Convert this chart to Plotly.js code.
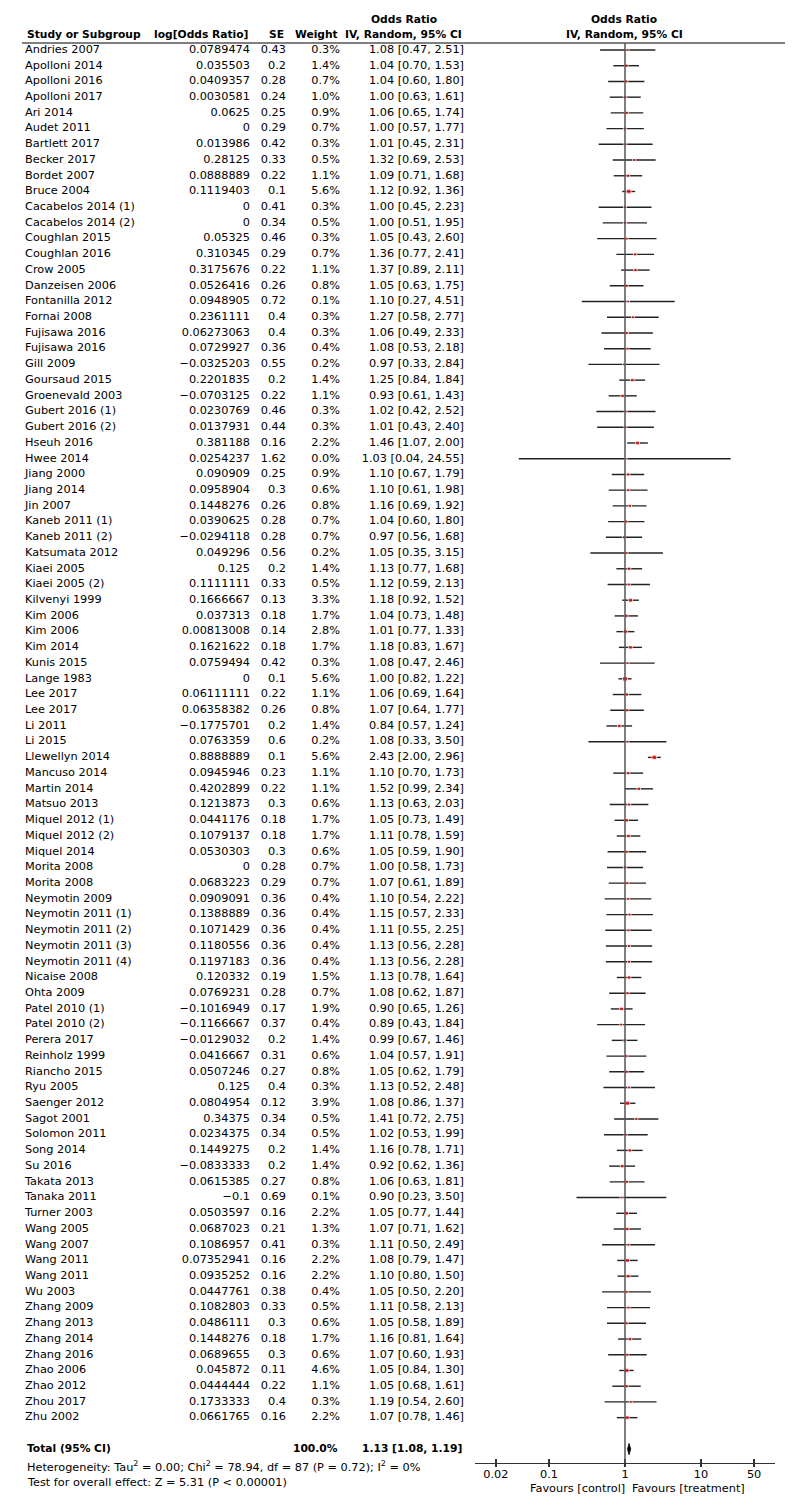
<!DOCTYPE html>
<html>
<head>
<meta charset="utf-8">
<script src="https://cdn.plot.ly/plotly-3.0.1.min.js"></script>
<style>body{margin:0;background:#fff}</style>
</head>
<body>
<div id="forest" style="width:800px;height:1507px"></div>
<script>
// Study data
var studies = ["Andries 2007","Apolloni 2014","Apolloni 2016","Apolloni 2017","Ari 2014","Audet 2011","Bartlett 2017","Becker 2017","Bordet 2007","Bruce 2004",
  "Cacabelos 2014 (1)","Cacabelos 2014 (2)","Coughlan 2015","Coughlan 2016","Crow 2005","Danzeisen 2006","Fontanilla 2012","Fornai 2008","Fujisawa 2016","Fujisawa 2016",
  "Gill 2009","Goursaud 2015","Groenevald 2003","Gubert 2016 (1)","Gubert 2016 (2)","Hseuh 2016","Hwee 2014","Jiang 2000","Jiang 2014","Jin 2007",
  "Kaneb 2011 (1)","Kaneb 2011 (2)","Katsumata 2012","Kiaei 2005","Kiaei 2005 (2)","Kilvenyi 1999","Kim 2006","Kim 2006","Kim 2014","Kunis 2015",
  "Lange 1983","Lee 2017","Lee 2017","Li 2011","Li 2015","Llewellyn 2014","Mancuso 2014","Martin 2014","Matsuo 2013","Miquel 2012 (1)",
  "Miquel 2012 (2)","Miquel 2014","Morita 2008","Morita 2008","Neymotin 2009","Neymotin 2011 (1)","Neymotin 2011 (2)","Neymotin 2011 (3)","Neymotin 2011 (4)","Nicaise 2008",
  "Ohta 2009","Patel 2010 (1)","Patel 2010 (2)","Perera 2017","Reinholz 1999","Riancho 2015","Ryu 2005","Saenger 2012","Sagot 2001","Solomon 2011",
  "Song 2014","Su 2016","Takata 2013","Tanaka 2011","Turner 2003","Wang 2005","Wang 2007","Wang 2011","Wang 2011","Wu 2003",
  "Zhang 2009","Zhang 2013","Zhang 2014","Zhang 2016","Zhao 2006","Zhao 2012","Zhou 2017","Zhu 2002"];

var logOR = [0.0789474,0.035503,0.0409357,0.0030581,0.0625,0,0.013986,0.28125,0.0888889,0.1119403,
  0,0,0.05325,0.310345,0.3175676,0.0526416,0.0948905,0.2361111,0.06273063,0.0729927,
  -0.0325203,0.2201835,-0.0703125,0.0230769,0.0137931,0.381188,0.0254237,0.090909,0.0958904,0.1448276,
  0.0390625,-0.0294118,0.049296,0.125,0.1111111,0.1666667,0.037313,0.00813008,0.1621622,0.0759494,
  0,0.06111111,0.06358382,-0.1775701,0.0763359,0.8888889,0.0945946,0.4202899,0.1213873,0.0441176,
  0.1079137,0.0530303,0,0.0683223,0.0909091,0.1388889,0.1071429,0.1180556,0.1197183,0.120332,
  0.0769231,-0.1016949,-0.1166667,-0.0129032,0.0416667,0.0507246,0.125,0.0804954,0.34375,0.0234375,
  0.1449275,-0.0833333,0.0615385,-0.1,0.0503597,0.0687023,0.1086957,0.07352941,0.0935252,0.0447761,
  0.1082803,0.0486111,0.1448276,0.0689655,0.045872,0.0444444,0.1733333,0.0661765];

var se = [0.43,0.2,0.28,0.24,0.25,0.29,0.42,0.33,0.22,0.1,
  0.41,0.34,0.46,0.29,0.22,0.26,0.72,0.4,0.4,0.36,
  0.55,0.2,0.22,0.46,0.44,0.16,1.62,0.25,0.3,0.26,
  0.28,0.28,0.56,0.2,0.33,0.13,0.18,0.14,0.18,0.42,
  0.1,0.22,0.26,0.2,0.6,0.1,0.23,0.22,0.3,0.18,
  0.18,0.3,0.28,0.29,0.36,0.36,0.36,0.36,0.36,0.19,
  0.28,0.17,0.37,0.2,0.31,0.27,0.4,0.12,0.34,0.34,
  0.2,0.2,0.27,0.69,0.16,0.21,0.41,0.16,0.16,0.38,
  0.33,0.3,0.18,0.3,0.11,0.22,0.4,0.16];

var weight = [0.3,1.4,0.7,1.0,0.9,0.7,0.3,0.5,1.1,5.6,
  0.3,0.5,0.3,0.7,1.1,0.8,0.1,0.3,0.3,0.4,
  0.2,1.4,1.1,0.3,0.3,2.2,0.0,0.9,0.6,0.8,
  0.7,0.7,0.2,1.4,0.5,3.3,1.7,2.8,1.7,0.3,
  5.6,1.1,0.8,1.4,0.2,5.6,1.1,1.1,0.6,1.7,
  1.7,0.6,0.7,0.7,0.4,0.4,0.4,0.4,0.4,1.5,
  0.7,1.9,0.4,1.4,0.6,0.8,0.3,3.9,0.5,0.5,
  1.4,1.4,0.8,0.1,2.2,1.3,0.3,2.2,2.2,0.4,
  0.5,0.6,1.7,0.6,4.6,1.1,0.3,2.2];

var oddsRatio = [1.08,1.04,1.04,1.00,1.06,1.00,1.01,1.32,1.09,1.12,
  1.00,1.00,1.05,1.36,1.37,1.05,1.10,1.27,1.06,1.08,
  0.97,1.25,0.93,1.02,1.01,1.46,1.03,1.10,1.10,1.16,
  1.04,0.97,1.05,1.13,1.12,1.18,1.04,1.01,1.18,1.08,
  1.00,1.06,1.07,0.84,1.08,2.43,1.10,1.52,1.13,1.05,
  1.11,1.05,1.00,1.07,1.10,1.15,1.11,1.13,1.13,1.13,
  1.08,0.90,0.89,0.99,1.04,1.05,1.13,1.08,1.41,1.02,
  1.16,0.92,1.06,0.90,1.05,1.07,1.11,1.08,1.10,1.05,
  1.11,1.05,1.16,1.07,1.05,1.05,1.19,1.07];

var ciLow = [0.47,0.70,0.60,0.63,0.65,0.57,0.45,0.69,0.71,0.92,
  0.45,0.51,0.43,0.77,0.89,0.63,0.27,0.58,0.49,0.53,
  0.33,0.84,0.61,0.42,0.43,1.07,0.04,0.67,0.61,0.69,
  0.60,0.56,0.35,0.77,0.59,0.92,0.73,0.77,0.83,0.47,
  0.82,0.69,0.64,0.57,0.33,2.00,0.70,0.99,0.63,0.73,
  0.78,0.59,0.58,0.61,0.54,0.57,0.55,0.56,0.56,0.78,
  0.62,0.65,0.43,0.67,0.57,0.62,0.52,0.86,0.72,0.53,
  0.78,0.62,0.63,0.23,0.77,0.71,0.50,0.79,0.80,0.50,
  0.58,0.58,0.81,0.60,0.84,0.68,0.54,0.78];

var ciHigh = [2.51,1.53,1.80,1.61,1.74,1.77,2.31,2.53,1.68,1.36,
  2.23,1.95,2.60,2.41,2.11,1.75,4.51,2.77,2.33,2.18,
  2.84,1.84,1.43,2.52,2.40,2.00,24.55,1.79,1.98,1.92,
  1.80,1.68,3.15,1.68,2.13,1.52,1.48,1.33,1.67,2.46,
  1.22,1.64,1.77,1.24,3.50,2.96,1.73,2.34,2.03,1.49,
  1.59,1.90,1.73,1.89,2.22,2.33,2.25,2.28,2.28,1.64,
  1.87,1.26,1.84,1.46,1.91,1.79,2.48,1.37,2.75,1.99,
  1.71,1.36,1.81,3.50,1.44,1.62,2.49,1.47,1.50,2.20,
  2.13,1.89,1.64,1.93,1.30,1.61,2.60,1.46];

// Pooled result
var totalOR = 1.13;
var totalLow = 1.08;
var totalHigh = 1.19;
var totalWeight = 100.0;

var tickVals = [0.02, 0.1, 1, 10, 50];
var tickText = ["0.02", "0.1", "1", "10", "50"];

var FONT = "DejaVu Sans";
var SIZE = 11.3, BOLD_SIZE = 10.7;
var rows = studies.map(function (s, i) { return i; });
var totalRow = studies.length + 1;
var H = 1507;
function py(p) { return 1 - p / H; }

// CI segments
var ciX = [], ciY = [];
for (var i = 0; i < studies.length; i++) {
  ciX.push(ciLow[i], ciHigh[i], null);
  ciY.push(i, i, null);
}

function num(v) { return String(v).replace("-", "\u2212"); }
function ci(o, l, h) { return o.toFixed(2) + " [" + l.toFixed(2) + ", " + h.toFixed(2) + "]"; }

function textCol(x, txt, pos) {
  return {
    x: rows.map(function () { return x; }), y: rows, text: txt,
    mode: "text", textposition: pos, xaxis: "x2", yaxis: "y",
    textfont: {family: FONT, size: SIZE, color: "#000"},
    cliponaxis: false, hoverinfo: "skip"
  };
}

var data = [
  {x: ciX, y: ciY, mode: "lines", line: {color: "#222", width: 1.4}, hoverinfo: "skip"},
  {x: oddsRatio, y: rows, mode: "markers", hoverinfo: "skip",
   marker: {symbol: "square", color: "#ff0000",
            size: weight.map(function (w) { return 2.4 + 1.0 * Math.sqrt(w); })}},
  {x: [totalLow, totalOR, totalHigh, totalOR, totalLow],
   y: [totalRow, totalRow - 0.36, totalRow, totalRow + 0.36, totalRow],
   mode: "lines", fill: "toself", fillcolor: "#000", line: {color: "#000", width: 0.8}, hoverinfo: "skip"},
  textCol(25, studies, "middle right"),
  textCol(250, logOR.map(num), "middle left"),
  textCol(286, se.map(num), "middle left"),
  textCol(340, weight.map(function (w) { return w.toFixed(1) + "%"; }), "middle left"),
  textCol(464, oddsRatio.map(function (o, i) { return ci(o, ciLow[i], ciHigh[i]); }), "middle left")
];

function note(text, x, y, anchor, bold) {
  return {text: bold ? "<b>" + text + "</b>" : text, x: x / 800, y: py(y), xref: "paper", yref: "paper",
          xanchor: anchor, yanchor: "middle", showarrow: false,
          font: {family: FONT, size: bold ? BOLD_SIZE : SIZE, color: "#000"}};
}

var logAxis = {
  type: "log", domain: [475 / 800, 775 / 800], range: [-1.974, 1.974],
  anchor: "free", position: py(1463),
  tickvals: tickVals, tickwidth: 1.3, tickcolor: "#333", ticklen: 4,
  showgrid: false, zeroline: false, fixedrange: true
};

var layout = {
  width: 800, height: H,
  margin: {l: 0, r: 0, t: 0, b: 0},
  paper_bgcolor: "#fff", plot_bgcolor: "rgba(0,0,0,0)",
  showlegend: false,
  xaxis: Object.assign({}, logAxis, {
    showline: true, linecolor: "#333", linewidth: 1.3, ticks: "inside",
    ticktext: tickText, tickfont: {family: FONT, size: SIZE, color: "#000"}
  }),
  // lower half of the tick marks, so they cross the axis line
  xaxis3: Object.assign({}, logAxis, {
    overlaying: "x", showline: false, ticks: "outside", ticklen: 3, showticklabels: false
  }),
  xaxis2: {domain: [0, 1], range: [0, 800], visible: false, anchor: "y", fixedrange: true},
  yaxis: {domain: [0, 1], range: [(H - 50) / 15.72, -50 / 15.72], visible: false, fixedrange: true},
  shapes: [
    {type: "line", xref: "paper", yref: "paper", x0: 22 / 800, x1: 785 / 800, y0: py(43), y1: py(43),
     line: {color: "#555", width: 1.5}},
    {type: "line", xref: "x", yref: "paper", x0: 1, x1: 1, y0: py(1463), y1: py(43),
     line: {color: "#555", width: 1.5}}
  ],
  annotations: [
    note("Odds Ratio", 404, 20, "center", true),
    note("Study or Subgroup", 25, 35, "left", true),
    note("log[Odds Ratio]", 250, 35, "right", true),
    note("SE", 286, 35, "right", true),
    note("Weight", 340, 35, "right", true),
    note("IV, Random, 95% CI", 464, 35, "right", true),
    note("Odds Ratio", 624, 20, "center", true),
    note("IV, Random, 95% CI", 624, 35, "center", true),
    note("Total (95% CI)", 25, 1448, "left", true),
    note(totalWeight.toFixed(1) + "%", 340, 1448, "right", true),
    note(ci(totalOR, totalLow, totalHigh), 464, 1448, "right", true),
    note("Heterogeneity: Tau<sup>2</sup> = 0.00; Chi<sup>2</sup> = 78.94, df = 87 (P = 0.72); I<sup>2</sup> = 0%", 25, 1466, "left", false),
    note("Test for overall effect: Z = 5.31 (P &lt; 0.00001)", 25, 1482, "left", false),
    note("Favours [control]", 627, 1488, "right", false),
    note("Favours [treatment]", 630, 1488, "left", false)
  ]
};

// empty trace so the overlay axis is drawn
data.push({x: [1], y: [0], xaxis: "x3", yaxis: "y", mode: "markers", marker: {opacity: 0}, hoverinfo: "skip"});

Plotly.newPlot("forest", data, layout, {staticPlot: true, displayModeBar: false});
</script>
</body>
</html>
